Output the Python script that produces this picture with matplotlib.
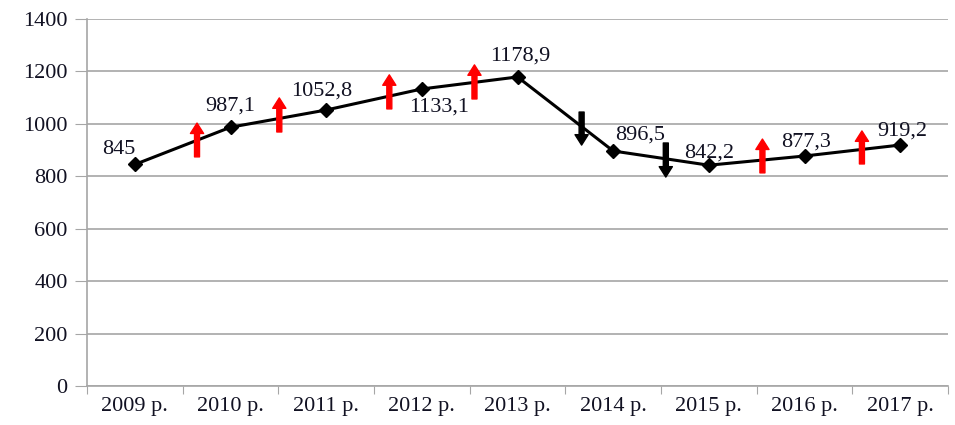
import numpy as np
import matplotlib
matplotlib.use('Agg')
import matplotlib.pyplot as plt

# data
years = ['2009 р.', '2010 р.', '2011 р.', '2012 р.', '2013 р.',
         '2014 р.', '2015 р.', '2016 р.', '2017 р.']
values = [845, 987.1, 1052.8, 1133.1, 1178.9, 896.5, 842.2, 877.3, 919.2]
labels = ['845', '987,1', '1052,8', '1133,1', '1178,9', '896,5', '842,2', '877,3', '919,2']
# label offsets in pixels from the point
label_dx = [-16, 0, -5, 17, 3, 27, 0, 2, 2]
label_dy = [15, 21, 19, -18, 21, 16, 12, 14, 14]

# trend arrows between the years: x position, tail value, tip value, colour
arrow_x = [0.65, 1.51, 2.66, 3.55, 4.67, 5.55, 6.56, 7.6]
arrow_tail = [874, 969, 1057, 1095, 1045, 927, 813, 847]
arrow_tip = [1003, 1099, 1187, 1225, 919, 797, 942, 973]
arrow_col = ['red', 'red', 'red', 'red', 'black', 'black', 'red', 'red']

plt.rcParams['font.family'] = ['Liberation Serif', 'DejaVu Serif']

fig = plt.figure(figsize=(9.55, 4.25), dpi=100)
ax = fig.add_axes([0.0911, 0.0918, 0.9016, 0.8635])

x = np.arange(len(years))
ax.plot(x, values, color='black', lw=2.2, marker='D', markersize=7, zorder=3)

for xi, v, t, dx, dy in zip(x, values, labels, label_dx, label_dy):
    ax.annotate(t, (xi, v), xytext=(dx, dy), textcoords='offset pixels',
                ha='center', va='center', fontsize=16, color='#111122', zorder=4)

for ax_x, a, b, c in zip(arrow_x, arrow_tail, arrow_tip, arrow_col):
    ax.annotate('', xy=(ax_x, b), xytext=(ax_x, a),
                arrowprops=dict(arrowstyle='simple,head_length=0.75,head_width=0.95,tail_width=0.36',
                                color=c, mutation_scale=10, shrinkA=0, shrinkB=0),
                zorder=5)

ax.set_xlim(-0.5, len(years) - 0.5)
ax.set_ylim(0, 1400)
ax.set_yticks(np.arange(0, 1401, 200))
ax.tick_params(axis='y', labelsize=16, length=9, color='#a6a6a6', labelcolor='#111122', pad=5)
ax.grid(axis='y', color='#a6a6a6', lw=1.2)
ax.set_axisbelow(True)

ax.set_xticks(np.arange(-0.5, len(years)), minor=False)
ax.set_xticklabels([])
ax.set_xticks(x, minor=True)
ax.set_xticklabels(years, minor=True)
ax.tick_params(axis='x', which='major', length=6, color='#a6a6a6')
ax.tick_params(axis='x', which='minor', length=0, labelsize=16, labelcolor='#111122', pad=8)

for s in ['top', 'right']:
    ax.spines[s].set_visible(False)
for s in ['left', 'bottom']:
    ax.spines[s].set_color('#a6a6a6')
    ax.spines[s].set_linewidth(1.2)

fig.savefig('out.png', dpi=100)
